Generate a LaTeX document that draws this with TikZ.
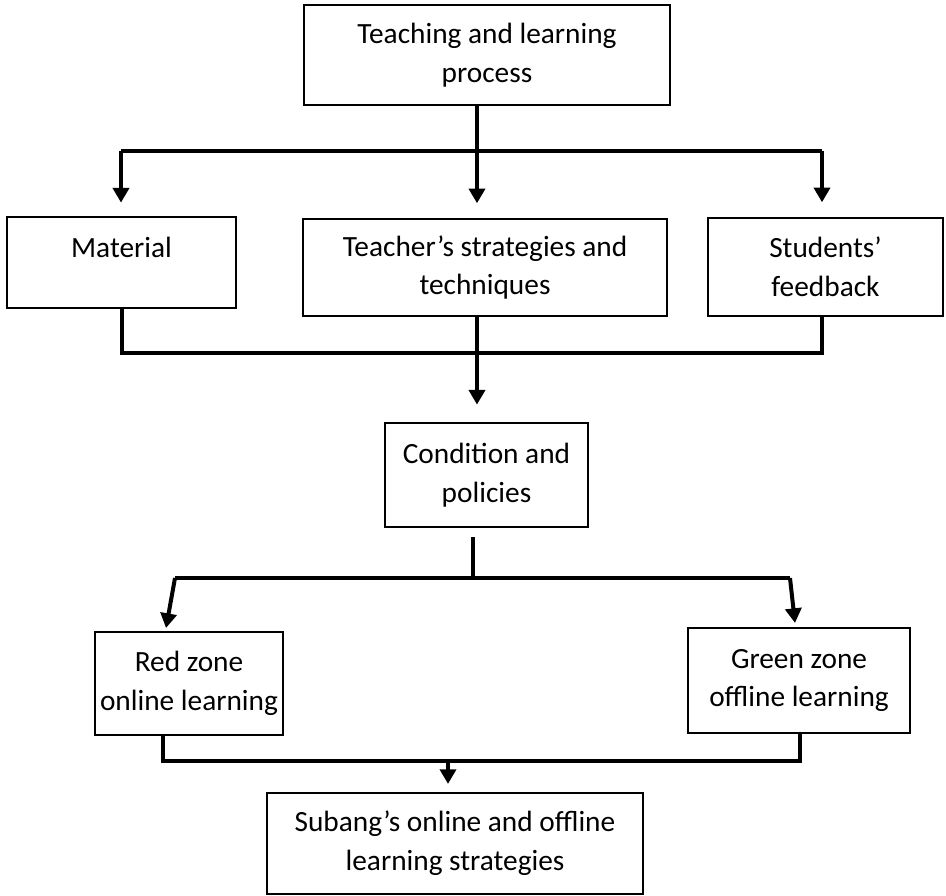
\documentclass[tikz,border=0pt]{standalone}
\usepackage{fontspec}
\setmainfont{Carlito}
\usetikzlibrary{arrows.meta}

\begin{document}
\begin{tikzpicture}[x=0.75pt, y=-0.75pt,
    box/.style={draw, line width=1.6pt, align=center, inner sep=0pt,
                font=\fontsize{22}{29}\selectfont},
    conn/.style={line width=3pt},
    arr/.style={conn, -{Triangle[width=12pt,length=11pt]}}]
\useasboundingbox (0,0) rectangle (946,896);

\node[box, minimum width=274.5pt, minimum height=75pt] (proc) at (487,55) {Teaching and learning\\process};
\node[box, minimum width=171.75pt, minimum height=68.25pt] (mat) at (121.5,262.5) {Material\\[-15pt]\strut};
\node[box, minimum width=273pt, minimum height=72.75pt] (tch) at (485,267.5) {Teacher’s strategies and\\techniques};
\node[box, minimum width=176.25pt, minimum height=73.5pt] (stu) at (825.5,267) {Students’\\feedback};
\node[box, minimum width=152.25pt, minimum height=78pt] (cond) at (486.5,475) {Condition and\\policies};
\node[box, minimum width=141pt, minimum height=77.25pt] (red) at (189,683.5) {Red zone\\online learning};
\node[box, minimum width=166.5pt, minimum height=78.75pt] (grn) at (799,680.5) {Green zone\\offline learning};
\node[box, minimum width=282pt, minimum height=75.75pt] (sub) at (455,843.5) {Subang’s online and offline\\learning strategies};

% first split
\coordinate (a1) at (121,151);
\coordinate (a2) at (477,151);
\coordinate (a3) at (822,151);
\draw[conn] (a1) -- (a3);
\draw[arr, shorten >=11pt] (proc.south -| a2) -- (tch.north -| a2);
\draw[arr, shorten >=10pt] (a1) -- (mat.north -| a1);
\draw[arr, shorten >=11pt] (a3) -- (stu.north -| a3);

% merge into condition
\coordinate (b1) at (122,353);
\coordinate (b2) at (477,353);
\coordinate (b3) at (822,353);
\draw[conn] (mat.south -| b1) -- (b1) -- (b3) -- (stu.south -| b3);
\draw[arr, shorten >=13pt] (tch.south -| b2) -- (cond.north -| b2);

% zones
\coordinate (c1) at (175,578);
\coordinate (c2) at (473,578);
\coordinate (c3) at (790,578);
\coordinate (rin) at (166,628);
\coordinate (gin) at (795,623);
\draw[conn] ([yshift=-7pt]cond.south -| c2) -- (c2);
\draw[conn] (c1) -- (c3);
\draw[arr] (c1) -- (rin);
\draw[arr] (c3) -- (gin);

% final merge
\coordinate (d1) at (163,761);
\coordinate (d2) at (448,761);
\coordinate (d3) at (800,761);
\draw[conn] (red.south -| d1) -- (d1) -- (d3) -- (grn.south -| d3);
\draw[arr, shorten >=6pt] (d2) -- (sub.north -| d2);
\end{tikzpicture}
\end{document}
